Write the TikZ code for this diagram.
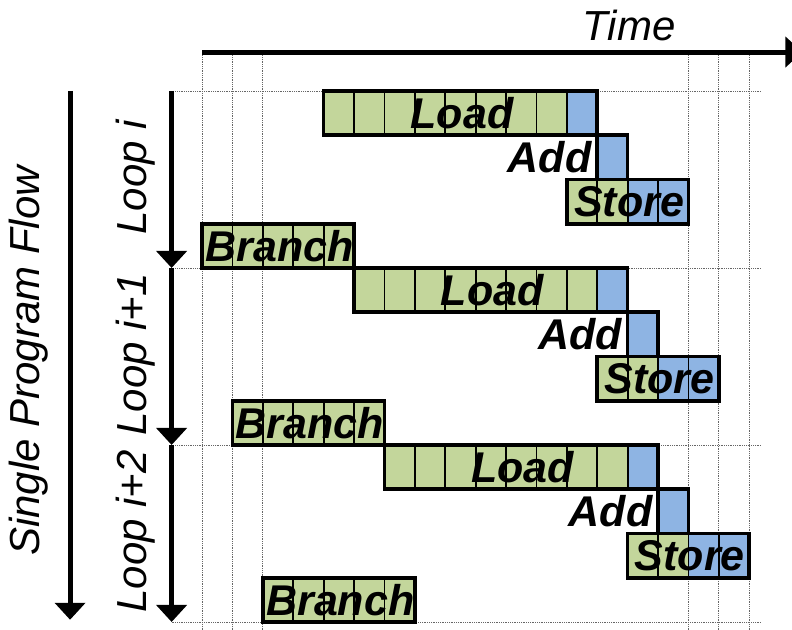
\documentclass[tikz,border=0pt]{standalone}
\usepackage{fontspec}
\setmainfont{Liberation Sans}
\usetikzlibrary{arrows.meta}

\definecolor{loadgreen}{HTML}{C3D69B}
\definecolor{alublue}{HTML}{8EB4E3}

\tikzset{
	grid line/.style={black!60, line width=0.7pt, dash pattern=on 0.9pt off 0.9pt},
	flow arrow/.style={line width=5pt, -{Triangle[length=17pt,width=30pt]}},
	cell/.style={draw, line width=1.8pt},
	frame/.style={draw, line width=3.6pt},
	instr/.style={font=\fontsize{43}{43}\selectfont\bfseries\itshape, inner sep=0pt},
	lbl/.style={font=\fontsize{42}{42}\selectfont\itshape, inner sep=0pt}
}

\begin{document}
\begin{tikzpicture}[x=30.4pt, y=-44.25pt]
	\useasboundingbox (-6.645,-2.056) rectangle (19.408,12.181);
	%grid
	\foreach \x in {0,1,2,16,17,18}
	\draw[grid line] (\x,-0.85) -- (\x,12.181);
	\foreach \y in {0,4,8,12}
	\draw[grid line] (-1,\y) -- (18.4,\y);
	%time axis, tip runs off the page
	\draw[flow arrow] (0,-0.88) -- (19.75,-0.88);
	\node[lbl] (time) at (14.05,-1.47) {Time};
	%program flow
	\draw[flow arrow] (-4.34,0) -- (-4.34,11.95);
	\node[lbl, rotate=90] (flow) at (-5.69,6.1) {Single Program Flow};
	%loop arrows
	\foreach \k/\ktext in {0/Loop i, 1/Loop i+1, 2/Loop i+2} {
		\draw[flow arrow] (-1,4*\k) -- (-1,4*\k+4);
		\node[lbl, rotate=90] (loop\k) at (-2.17,4*\k+1.95) {\ktext};
	}
	%instructions of each loop
	\foreach \k in {0,1,2} {
		% load
		\foreach \c in {0,...,7}
		\draw[cell, fill=loadgreen] (4+\k+\c,4*\k) rectangle ++(1,1);
		\draw[cell, fill=alublue] (12+\k,4*\k) rectangle ++(1,1);
		\draw[frame] (4+\k,4*\k) rectangle ++(9,1);
		\node[instr] (load\k) at (8.55+\k,4*\k+0.5) {Load};
		% add
		\draw[frame, fill=alublue] (13+\k,4*\k+1) rectangle ++(1,1);
		\node[instr, anchor=east] (add\k) at (12.82+\k,4*\k+1.5) {Add};
		% store
		\foreach \c in {0,1}
		\draw[cell, fill=loadgreen] (12+\k+\c,4*\k+2) rectangle ++(1,1);
		\foreach \c in {2,3}
		\draw[cell, fill=alublue] (12+\k+\c,4*\k+2) rectangle ++(1,1);
		\draw[frame] (12+\k,4*\k+2) rectangle ++(4,1);
		\node[instr] (store\k) at (14.05+\k,4*\k+2.5) {Store};
		% branch
		\foreach \c in {0,...,4}
		\draw[cell, fill=loadgreen] (\k+\c,4*\k+3) rectangle ++(1,1);
		\draw[frame] (\k,4*\k+3) rectangle ++(5,1);
		\node[instr] (branch\k) at (\k+2.55,4*\k+3.5) {Branch};
	}
\end{tikzpicture}
\end{document}
